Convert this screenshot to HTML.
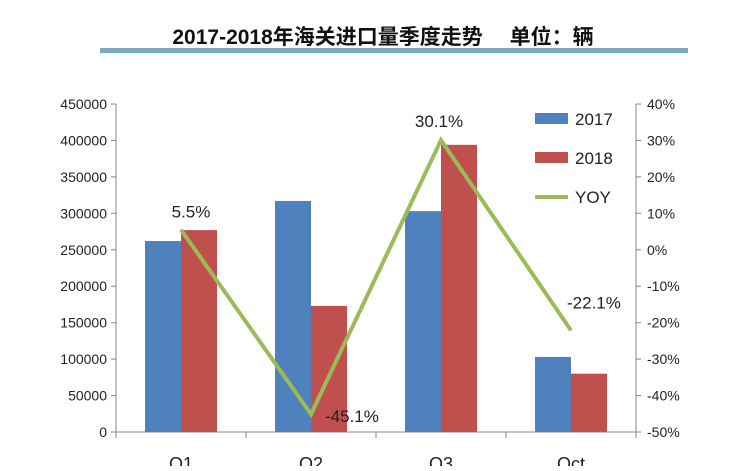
<!DOCTYPE html>
<html><head><meta charset="utf-8"><style>
body{margin:0;background:#fff;width:744px;height:466px;overflow:hidden}
text{font-family:"Liberation Sans","Noto Sans CJK SC",sans-serif}
</style></head><body>
<svg id="chart" width="744" height="466" xmlns="http://www.w3.org/2000/svg">
<text x="383" y="44" text-anchor="middle" font-size="21" font-weight="bold" fill="#111">2017-2018年海关进口量季度走势　 单位：辆</text>
<rect x="100" y="48" width="588" height="5" fill="#7aaabb"/>
<g id="axes"></g><g id="bars"></g><g id="line"></g>
<g>
<rect x="535" y="113" width="33" height="11" fill="#4f81bd"/>
<text x="575" y="125" font-size="17" fill="#222">2017</text>
<rect x="535" y="152" width="33" height="11" fill="#c0504d"/>
<text x="575" y="164" font-size="17" fill="#222">2018</text>
<line x1="535" y1="197" x2="568" y2="197" stroke="#9bbb59" stroke-width="4"/>
<text x="575" y="203" font-size="17" fill="#222">YOY</text>
</g>
</svg>
<script>
const categories=["Q1","Q2","Q3","Oct"];
const v2017=[262000,317000,303000,103000];
const v2018=[277000,173000,394000,80000];
const yoy=[5.5,-45.1,30.1,-22.1];
const leftTicks=[0,50000,100000,150000,200000,250000,300000,350000,400000,450000];
const rightTicks=[-50,-40,-30,-20,-10,0,10,20,30,40];
const NS="http://www.w3.org/2000/svg";
const X0=116,X1=636,Y0=432,Y1=104;
const yL=v=>Y0-(v/450000)*(Y0-Y1);
const yR=v=>Y0-((v+50)/90)*(Y0-Y1);
const bw=(X1-X0)/categories.length;
const xc=i=>X0+bw*(i+0.5);
function mk(t,a,p){const e=document.createElementNS(NS,t);for(const k in a)e.setAttribute(k,a[k]);p.appendChild(e);return e;}
const ax=document.getElementById('axes'),bars=document.getElementById('bars'),ln=document.getElementById('line');
let e=mk('line',{x1:X0,y1:Y1,x2:X0,y2:Y0,stroke:'#888'},ax);

e=mk('line',{x1:X1,y1:Y1,x2:X1,y2:Y0,stroke:'#888'},ax);

e=mk('line',{x1:X0,y1:Y0,x2:X1,y2:Y0,stroke:'#888'},ax);

leftTicks.forEach(t=>{const y=yL(t);mk('line',{x1:X0-5,y1:y,x2:X0,y2:y,stroke:'#888'},ax);
const tx=mk('text',{x:X0-9,y:y+5,'text-anchor':'end','font-size':14,fill:'#222'},ax);tx.textContent=t;
});
rightTicks.forEach(t=>{const y=yR(t);mk('line',{x1:X1,y1:y,x2:X1+5,y2:y,stroke:'#888'},ax);
const tx=mk('text',{x:X1+11,y:y+5,'font-size':14,fill:'#222'},ax);tx.textContent=t+'%';
});
for(let i=0;i<=categories.length;i++){mk('line',{x1:X0+bw*i,y1:Y0,x2:X0+bw*i,y2:Y0+6,stroke:'#888'},ax);}
categories.forEach((c,i)=>{
const tx=mk('text',{x:xc(i),y:470,'text-anchor':'middle','font-size':18,fill:'#222'},ax);tx.textContent=c;

let b=mk('rect',{x:xc(i)-36,y:yL(v2017[i]),width:36,height:Y0-yL(v2017[i]),fill:'#4f81bd'},bars);

b=mk('rect',{x:xc(i),y:yL(v2018[i]),width:36,height:Y0-yL(v2018[i]),fill:'#c0504d'},bars);

});
const pl=mk('polyline',{points:yoy.map((v,i)=>xc(i)+','+yR(v)).join(' '),fill:'none',stroke:'#9bbb59','stroke-width':4},ln);

const off=[[10,-12,'middle'],[14,8,'start'],[-2,-13,'middle'],[-4,-22,'start']];
yoy.forEach((v,i)=>{const t=mk('text',{x:xc(i)+off[i][0],y:yR(v)+off[i][1],'text-anchor':off[i][2],'font-size':17,fill:'#222'},ln);
t.textContent=v.toFixed(1)+'%';});
</script>
</body></html>
